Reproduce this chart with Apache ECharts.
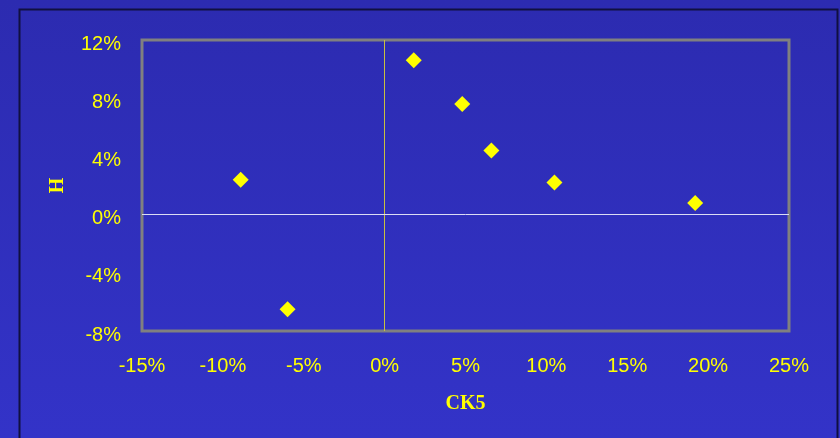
<!DOCTYPE html>
<html>
<head>
<meta charset="utf-8">
<script src="https://cdn.jsdelivr.net/npm/echarts@6/dist/echarts.min.js"></script>
<style>
  html, body { margin: 0; padding: 0; }
  #chart {
    width: 840px; height: 438px;
    background: linear-gradient(to bottom, #2c2bb0 0%, #3333c8 100%);
  }
</style>
</head>
<body>
<div id="chart"></div>
<script>
// CK5 change (%) vs H change (%)
const ck5 = [-8.9, -6.0, 1.8, 4.8, 6.6, 10.5, 19.2];
const h   = [2.4, -6.5, 10.6, 7.6, 4.4, 2.2, 0.8];

const xTicks = { min: -15, max: 25, interval: 5 };
const yTicks = { min: -8, max: 12, interval: 4 };

const points = ck5.map((x, i) => [x, h[i]]);
const yellow = '#ffff00';

const chart = echarts.init(document.getElementById('chart'));
chart.setOption({
  backgroundColor: 'transparent',
  animation: false,
  graphic: [{
    type: 'rect',
    shape: { x: 19.5, y: 9.5, width: 818, height: 440 },
    style: { fill: 'none', stroke: '#101040', lineWidth: 2 },
    silent: true
  }],
  grid: {
    left: 142, top: 40, right: 51, bottom: 107,
    show: true, borderColor: '#808080', borderWidth: 3,
    backgroundColor: 'transparent'
  },
  xAxis: {
    type: 'value',
    min: xTicks.min, max: xTicks.max, interval: xTicks.interval,
    name: 'CK5', nameLocation: 'middle', nameGap: 63,
    nameTextStyle: { color: yellow, fontFamily: 'Liberation Serif', fontWeight: 'bold', fontSize: 20 },
    axisLine: { show: false }, axisTick: { show: false }, splitLine: { show: false },
    axisLabel: {
      color: yellow, fontFamily: 'Liberation Sans', fontSize: 20, margin: 25,
      formatter: v => v + '%'
    }
  },
  yAxis: {
    type: 'value',
    min: yTicks.min, max: yTicks.max, interval: yTicks.interval,
    name: 'H', nameLocation: 'middle', nameGap: 74, nameRotate: 90,
    nameTextStyle: { color: yellow, fontFamily: 'Liberation Serif', fontWeight: 'bold', fontSize: 20 },
    axisLine: { show: false }, axisTick: { show: false }, splitLine: { show: false },
    axisLabel: {
      color: yellow, fontFamily: 'Liberation Sans', fontSize: 20, margin: 21,
      verticalAlign: 'top', lineHeight: 8,
      formatter: v => v + '%'
    }
  },
  series: [{
    type: 'scatter',
    data: points,
    symbol: 'diamond',
    symbolSize: 16,
    itemStyle: { color: yellow, opacity: 1 },
    markLine: {
      silent: true,
      symbol: 'none',
      label: { show: false },
      data: [
        { xAxis: 0, lineStyle: { color: '#c8c040', width: 1, type: 'solid' } },
        { yAxis: 0, lineStyle: { color: '#dcdcf4', width: 1, type: 'solid' } }
      ]
    }
  }]
});
</script>
</body>
</html>
